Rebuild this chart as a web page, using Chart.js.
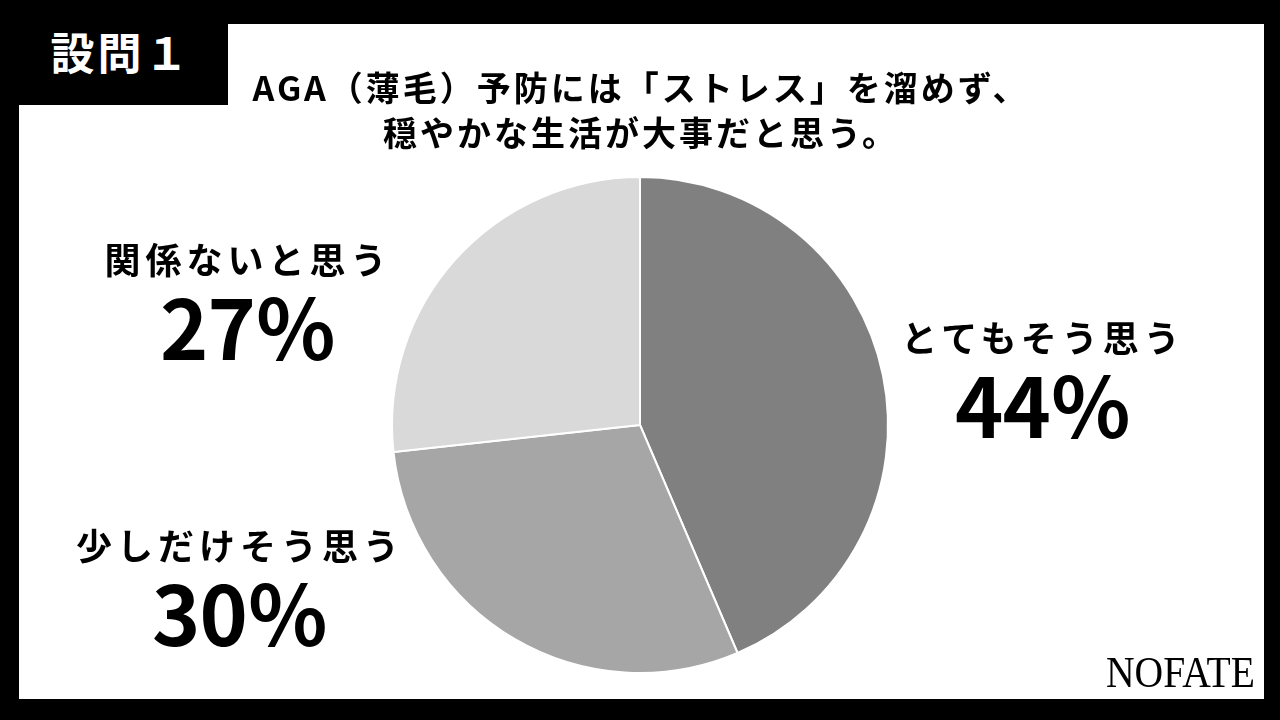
<!DOCTYPE html>
<html lang="ja">
<head>
<meta charset="utf-8">
<title>設問1</title>
<script src="https://cdn.jsdelivr.net/npm/chart.js@4.4.1/dist/chart.umd.min.js"></script>
<style>
  html, body { margin: 0; padding: 0; }
  body {
    width: 1280px; height: 720px; background: #000; position: relative; overflow: hidden;
    font-family: "Noto Sans CJK JP", "Noto Sans", sans-serif; color: #000;
  }
  #panel { position: absolute; left: 19px; top: 24px; width: 1245px; height: 675px; background: #fff; }
  #chart { position: absolute; left: 0; top: 0; }
  #tab {
    position: absolute; left: 0; top: 0; width: 228px; height: 105px; background: #000;
    color: #fff; font-weight: 700; font-size: 44px; letter-spacing: 3px;
    display: flex; align-items: center; justify-content: center; padding: 0 0 4px 14px; box-sizing: border-box;
  }
  .title {
    position: absolute; left: 11px; width: 1260px; text-align: center;
    font-weight: 700; font-size: 34px; letter-spacing: 3px; line-height: 1;
  }
  .lbl { position: absolute; width: 420px; text-align: center; font-weight: 700; line-height: 1; }
  .lbl .name { font-size: 36px; letter-spacing: 5px; }
  .lbl .pct { font-size: 82px; margin-top: 8px; letter-spacing: -1px; }
  #logo {
    position: absolute; left: 1098px; top: 651px; width: 160px; text-align: center;
    font-family: "Liberation Serif", "DejaVu Serif", serif; font-size: 44px; line-height: 1;
    transform: scaleX(0.9); transform-origin: center;
  }
</style>
</head>
<body>
<div id="panel"></div>
<canvas id="chart" width="1280" height="720"></canvas>
<div id="tab">設問１</div>
<div class="title" style="top:70px;">AGA（薄毛）予防には「ストレス」を溜めず、</div>
<div class="title" style="top:115px;">穏やかな生活が大事だと思う。</div>
<div class="lbl" id="lbl0" style="left:833px; top:318px;"></div>
<div class="lbl" id="lbl1" style="left:30px; top:526px;"></div>
<div class="lbl" id="lbl2" style="left:38px; top:240px;"></div>
<div id="logo">NOFATE</div>
<script>
const categories = ["とてもそう思う", "少しだけそう思う", "関係ないと思う"];
const values = [44, 30, 27];
const sliceColors = ["#808080", "#a6a6a6", "#d9d9d9"];

categories.forEach((c, i) => {
  const el = document.getElementById("lbl" + i);
  el.innerHTML = `<div class="name">${c}</div><div class="pct">${values[i]}％</div>`;
});

new Chart(document.getElementById("chart"), {
  type: "pie",
  data: {
    labels: categories,
    datasets: [{
      data: values,
      backgroundColor: sliceColors,
      borderColor: "#ffffff",
      borderWidth: 2
    }]
  },
  options: {
    responsive: false,
    animation: false,
    devicePixelRatio: 1,
    layout: { padding: { left: 391, right: 391, top: 176, bottom: 46 } },
    plugins: {
      legend: { display: false },
      tooltip: { enabled: false },
      title: { display: false }
    }
  }
});
</script>
</body>
</html>
